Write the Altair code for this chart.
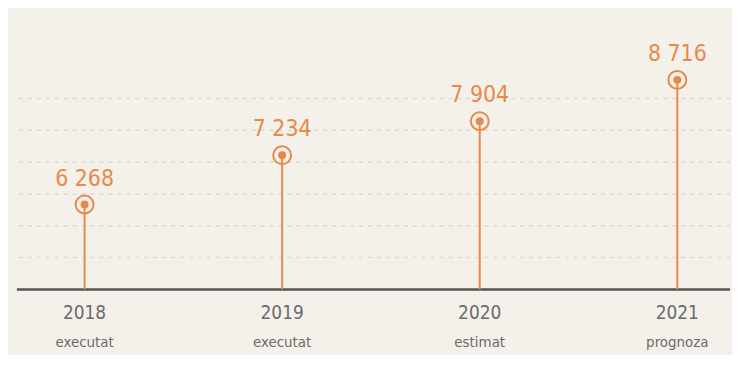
import altair as alt
import pandas as pd

years = ["2018", "2019", "2020", "2021"]
values = [6268, 7234, 7904, 8716]
value_labels = ["6 268", "7 234", "7 904", "8 716"]
status = ["executat", "executat", "estimat", "prognoza"]
grid_levels = [1, 2, 3, 4, 5, 6]

ORANGE = "#E8894B"
GREY = "#6a6a6a"
BG = "#F4F1EA"
FONT = "DejaVu Sans Condensed"

W, H = 717, 280
Y_MIN, Y_MAX = 4600, 10070

df = pd.DataFrame({"year": years, "value": values, "label": value_labels, "status": status})
grid_df = pd.DataFrame({"g": grid_levels})
base_df = pd.DataFrame({"g": [0]})

x_enc = alt.X("year:N", scale=alt.Scale(type="point", domain=years, range=[68, 664], padding=0), axis=None)
y_scale = alt.Scale(domain=[Y_MIN, Y_MAX], nice=False, zero=False)
y_enc = alt.Y("value:Q", scale=y_scale, axis=None)

grid_scale = alt.Scale(domain=[0, H / 32], nice=False, zero=True)

grid = alt.Chart(grid_df).mark_rule(color="#dcd9d2", strokeWidth=1.5, strokeDash=[4, 5]).encode(
    y=alt.Y("g:Q", scale=grid_scale, axis=None)
)
baseline = alt.Chart(base_df).mark_rule(color="#555555", strokeWidth=2.5).encode(
    y=alt.Y("g:Q", scale=grid_scale, axis=None)
)
back = alt.layer(grid, baseline)

stems = alt.Chart(df).mark_rule(color=ORANGE, strokeWidth=2).encode(
    x=x_enc, y=y_enc, y2=alt.value(H)
)
rings = alt.Chart(df).mark_point(shape="circle", filled=False, size=324, strokeWidth=2, color=ORANGE, opacity=1).encode(
    x=x_enc, y=y_enc
)
dots = alt.Chart(df).mark_point(shape="circle", filled=True, size=64, color=ORANGE, opacity=1).encode(
    x=x_enc, y=y_enc
)
vlabels = alt.Chart(df).mark_text(
    font=FONT, fontSize=23, color=ORANGE, align="center", baseline="alphabetic", dy=-19
).encode(x=x_enc, y=y_enc, text="label:N")
ylabels = alt.Chart(df).mark_text(
    font=FONT, fontSize=19, color=GREY, align="center", baseline="alphabetic"
).encode(x=x_enc, y=alt.value(310), text="year:N")
slabels = alt.Chart(df).mark_text(
    font=FONT, fontSize=15, color=GREY, align="center", baseline="alphabetic"
).encode(x=x_enc, y=alt.value(338), text="status:N")

front = alt.layer(stems, rings, dots, vlabels, ylabels, slabels)

chart = alt.layer(back, front).resolve_scale(y="independent").properties(
    width=W, height=H, background=BG,
    padding={"left": 7, "top": 2, "right": 0, "bottom": 4}
).configure_view(stroke=None)

chart.save("out.html", embed_options={"renderer": "svg", "actions": False})
